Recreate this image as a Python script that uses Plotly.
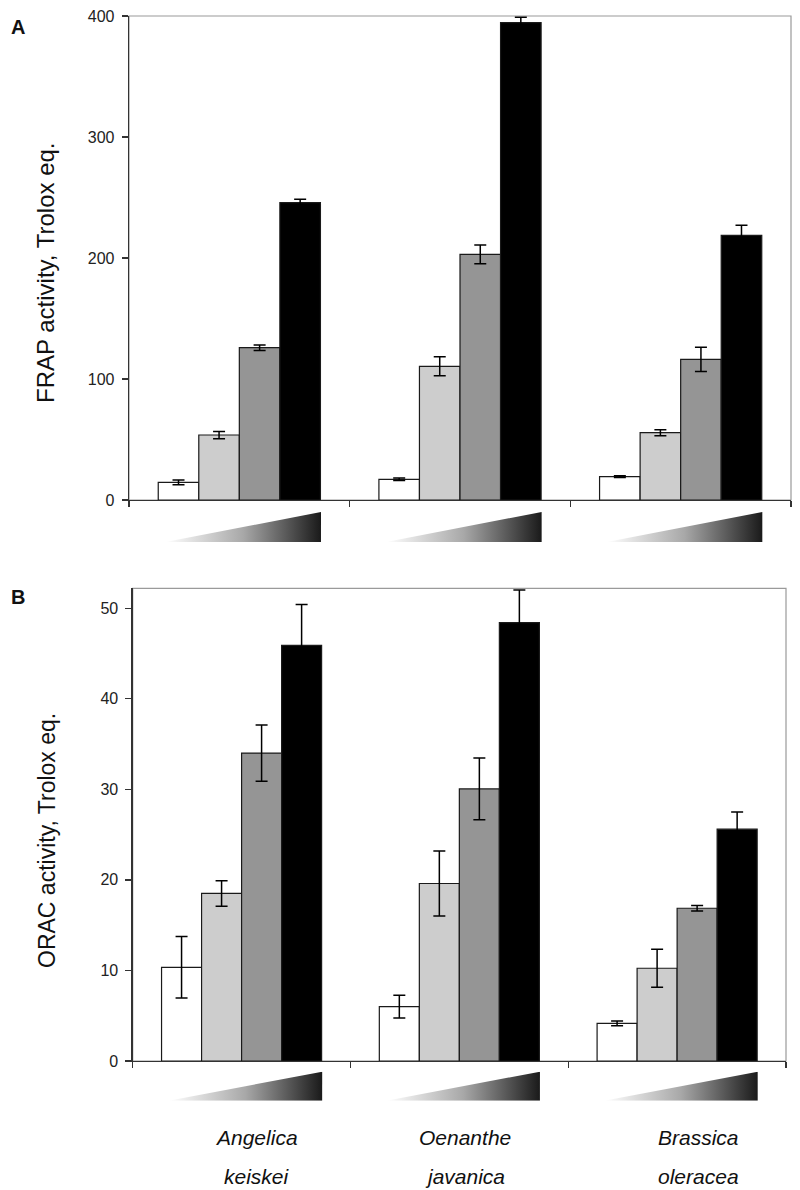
import plotly.graph_objects as go

# ---------------- data ----------------
groups = [0, 1, 2]
species_line1 = ["Angelica", "Oenanthe", "Brassica"]
species_line2 = ["keiskei", "javanica", "oleracea"]

# FRAP activity (panel A), 4 increasing concentrations per species
frap_c1 = [14.6, 17.1, 19.3]
frap_c2 = [53.7, 110.5, 55.6]
frap_c3 = [125.9, 203.0, 116.3]
frap_c4 = [245.7, 394.5, 218.7]
frap_e1 = [2.0, 1.0, 0.8]
frap_e2 = [3.0, 7.8, 2.5]
frap_e3 = [2.3, 7.8, 10.0]
frap_e4 = [2.8, 4.4, 8.3]

# ORAC activity (panel B)
orac_c1 = [10.35, 6.0, 4.16]
orac_c2 = [18.5, 19.6, 10.24]
orac_c3 = [34.0, 30.05, 16.87]
orac_c4 = [45.9, 48.4, 25.6]
orac_e1 = [3.4, 1.25, 0.26]
orac_e2 = [1.4, 3.6, 2.1]
orac_e3 = [3.1, 3.4, 0.3]
orac_e4 = [4.5, 3.6, 1.9]

yticks_a = [0, 100, 200, 300, 400]
yticks_b = [0, 10, 20, 30, 40, 50]
ytitle_a = "FRAP activity, Trolox eq."
ytitle_b = "ORAC activity, Trolox eq."

# ---------------- style ----------------
W, H = 800, 1190
FONT = "Liberation Sans, Arial, Helvetica, sans-serif"
bar_colors = ["#ffffff", "#cdcdcd", "#959595", "#000000"]
label_xshift_px = [15, 6, 21]


def px_x(v):
    return v / W


def px_y(v):
    return 1 - v / H


fig = go.Figure()

panels = [
    ("x", "y", [frap_c1, frap_c2, frap_c3, frap_c4], [frap_e1, frap_e2, frap_e3, frap_e4]),
    ("x2", "y2", [orac_c1, orac_c2, orac_c3, orac_c4], [orac_e1, orac_e2, orac_e3, orac_e4]),
]
for xa, ya, series, errs in panels:
    for vals, err, col in zip(series, errs, bar_colors):
        fig.add_trace(go.Bar(
            x=groups, y=vals, xaxis=xa, yaxis=ya,
            marker=dict(color=col, line=dict(color="#1a1a1a", width=1.2)),
            error_y=dict(type="data", array=err, color="#000000", thickness=1.5, width=6),
            hoverinfo="skip", showlegend=False,
        ))

# concentration wedges (gradient triangles)
tri_left, tri_right = -0.335, 0.37
for xa, ya in [("x", "y3"), ("x2", "y4")]:
    for g in groups:
        fig.add_trace(go.Scatter(
            x=[g + tri_left, g + tri_right, g + tri_right, g + tri_left],
            y=[0, 0, 1, 0],
            xaxis=xa, yaxis=ya, mode="lines", fill="toself",
            line=dict(width=0, color="rgba(0,0,0,0)"),
            fillgradient=dict(type="horizontal",
                              colorscale=[[0, "#ffffff"], [0.5, "#a8a8a8"], [1, "#1a1a1a"]]),
            hoverinfo="skip", showlegend=False,
        ))

xcommon = dict(range=[-0.5, 2.5], tickvals=[-0.5, 0.5, 1.5, 2.5], showticklabels=False,
               ticks="outside", ticklen=6, tickwidth=1.3, tickcolor="#333333",
               showline=True, linecolor="#333333", linewidth=1.3, automargin=False,
               showgrid=False, zeroline=False, fixedrange=True)
ycommon = dict(ticks="outside", ticklen=6, tickwidth=1.3, tickcolor="#333333",
               showline=True, linecolor="#333333", linewidth=1.3, automargin=False,
               showgrid=False, zeroline=False, fixedrange=True, ticklabelstandoff=4,
               tickfont=dict(family=FONT, size=16, color="#222222"))

fig.update_layout(
    width=W, height=H, autosize=False,
    margin=dict(l=0, r=0, t=0, b=0, pad=0, autoexpand=False),
    paper_bgcolor="white", plot_bgcolor="white",
    barmode="group", bargap=0.265, bargroupgap=0,
    showlegend=False, hovermode=False,
    font=dict(family=FONT, color="#111111"),
    xaxis=dict(domain=[px_x(129), px_x(791)], anchor="y", **xcommon),
    yaxis=dict(domain=[px_y(500), px_y(16)], anchor="x", range=[0, 400],
               tickvals=yticks_a, **ycommon),
    xaxis2=dict(domain=[px_x(132.7), px_x(786)], anchor="y2", **xcommon),
    yaxis2=dict(domain=[px_y(1061), px_y(588.3)], anchor="x2", range=[0, 52.2],
                tickvals=yticks_b, **ycommon),
    yaxis3=dict(domain=[px_y(542), px_y(512)], anchor="x", range=[0, 1], visible=False,
                automargin=False, fixedrange=True),
    yaxis4=dict(domain=[px_y(1100.7), px_y(1071.7)], anchor="x2", range=[0, 1], visible=False,
                automargin=False, fixedrange=True),
)

# light grey frame (top / right borders)
for xr, yr in [("x domain", "y domain"), ("x2 domain", "y2 domain")]:
    fig.add_shape(type="rect", xref=xr, yref=yr, x0=0, x1=1, y0=0, y1=1,
                  line=dict(color="#9a9a9a", width=1.2), layer="below")

# y axis titles
fig.add_annotation(text=ytitle_a, xref="paper", yref="paper", x=px_x(46), y=px_y(273),
                   textangle=-90, showarrow=False, xanchor="center", yanchor="middle",
                   font=dict(family=FONT, size=24, color="#111111"))
fig.add_annotation(text=ytitle_b, xref="paper", yref="paper", x=px_x(47), y=px_y(841),
                   textangle=-90, showarrow=False, xanchor="center", yanchor="middle",
                   font=dict(family=FONT, size=23, color="#111111"))

# panel letters
for letter, yy in [("A", 27), ("B", 597)]:
    fig.add_annotation(text="<b>%s</b>" % letter, xref="paper", yref="paper",
                       x=px_x(17.5), y=px_y(yy), showarrow=False,
                       xanchor="center", yanchor="middle",
                       font=dict(family=FONT, size=20, color="#111111"))

# species labels (italic, two lines)
for g, l1, l2, dx in zip(groups, species_line1, species_line2, label_xshift_px):
    for txt, yy in [(l1, 1137), (l2, 1176)]:
        fig.add_annotation(text=txt, xref="x2", yref="paper", x=g, y=px_y(yy), xshift=dx,
                           showarrow=False, xanchor="center", yanchor="middle",
                           font=dict(family=FONT, size=21, style="italic", color="#111111"))

fig.write_html(
    "out.html",
    config={"displayModeBar": False, "staticPlot": True},
    post_script=(
        "document.documentElement.style.margin='0px';"
        "document.documentElement.style.overflow='hidden';"
        "document.body.style.margin='0px';"
        "document.body.style.overflow='hidden';"
        "var d=document.getElementById('{plot_id}');"
        "d.style.position='fixed';d.style.left='0px';d.style.top='0px';"
    ),
)
